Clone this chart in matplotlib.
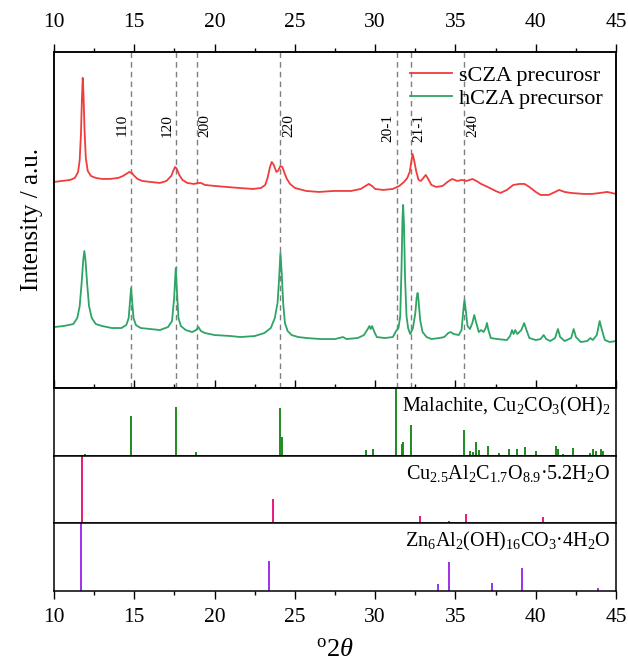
import matplotlib
matplotlib.use('Agg')
import matplotlib.pyplot as plt
from matplotlib.ticker import MultipleLocator, FixedLocator

plt.rcParams['font.family'] = ['Liberation Serif', 'DejaVu Serif']
plt.rcParams['mathtext.fontset'] = 'custom'
plt.rcParams['mathtext.rm'] = 'Liberation Serif'
plt.rcParams['mathtext.it'] = 'Liberation Serif:italic'

# sCZA precursor pattern (offset a.u.)
scza_x = [10.0, 10.5, 11.0, 11.3, 11.5, 11.6, 11.68, 11.74, 11.79, 11.84, 11.9, 11.98, 12.1,
          12.3, 12.6, 13.0, 13.5, 14.0, 14.3, 14.5, 14.69, 14.85, 15.0, 15.2, 15.5, 16.0,
          16.6, 17.0, 17.3, 17.45, 17.54, 17.65, 17.8, 18.0, 18.3, 18.7, 19.0, 19.15, 19.4,
          20.0, 20.76, 21.5, 22.4, 22.9, 23.15, 23.3, 23.45, 23.56, 23.68, 23.85, 23.95,
          24.1, 24.22, 24.35, 24.5, 24.7, 25.0, 25.7, 26.5, 27.4, 28.5, 29.1, 29.4, 29.6,
          29.8, 30.0, 30.5, 31.1, 31.5, 31.8, 32.0, 32.15, 32.25, 32.33, 32.42, 32.55, 32.7,
          32.85, 33.0, 33.15, 33.3, 33.5, 33.8, 34.2, 34.5, 34.8, 35.1, 35.4, 35.7, 36.05,
          36.3, 36.6, 37.0, 37.5, 37.8, 38.2, 38.6, 39.0, 39.3, 39.6, 40.0, 40.3, 40.8,
          41.2, 41.45, 41.8, 42.2, 43.0, 43.5, 44.0, 44.45, 45.0]
scza_y = [206, 207, 208, 210, 216, 228, 255, 290, 310, 292, 258, 230, 217,
          212, 210, 209, 209, 210, 212, 214, 216, 215, 212, 209, 207, 206,
          205, 207, 212, 218, 221, 219, 213, 208, 205, 204, 205, 205, 203,
          202, 201, 200, 199, 200, 203, 210, 221, 226, 223, 216, 217,
          222, 221, 215, 209, 204, 200, 197, 196, 197, 197, 199, 202, 204,
          202, 199, 198, 199, 202, 206, 210, 216, 226, 234, 228, 217, 208,
          207, 210, 213, 209, 203, 201, 202, 206, 209, 207, 208, 207, 209,
          207, 204, 201, 197, 195, 198, 203, 204, 204, 201, 196, 193, 193,
          196, 198, 196, 195, 194, 194, 195, 196, 194]

# hCZA precursor pattern
hcza_x = [10.0, 10.6, 11.2, 11.45, 11.6, 11.72, 11.82, 11.89, 11.96, 12.06, 12.18, 12.35,
          12.6, 13.0, 13.6, 14.2, 14.5, 14.65, 14.74, 14.8, 14.86, 14.95, 15.1, 15.4, 16.0,
          16.6, 17.1, 17.35, 17.48, 17.58, 17.66, 17.75, 17.9, 18.2, 18.6, 18.85, 18.99,
          19.15, 19.4, 20.0, 21.0, 21.6, 22.5, 23.1, 23.5, 23.75, 23.92, 24.02, 24.1, 24.18,
          24.27, 24.38, 24.55, 24.8, 25.2, 25.74, 26.6, 27.5, 28.0, 28.2, 28.9, 29.05, 29.3,
          29.5, 29.64, 29.72, 29.81, 29.95, 30.1, 30.6, 31.1, 31.3, 31.45, 31.56, 31.64,
          31.7, 31.74, 31.79, 31.86, 31.95, 32.05, 32.18, 32.35, 32.5, 32.58, 32.64, 32.7,
          32.8, 32.95, 33.2, 33.5, 34.0, 34.3, 34.55, 34.7, 34.9, 35.2, 35.38, 35.5, 35.56,
          35.64, 35.75, 35.9, 36.05, 36.17, 36.28, 36.45, 36.6, 36.75, 36.88, 36.96, 37.05,
          37.2, 37.6, 38.2, 38.4, 38.52, 38.62, 38.72, 38.85, 39.1, 39.28, 39.42, 39.6,
          40.0, 40.3, 40.49, 40.65, 40.9, 41.2, 41.38, 41.52, 41.8, 42.2, 42.36, 42.5,
          42.8, 43.2, 43.4, 43.55, 43.8, 43.98, 44.12, 44.3, 44.6, 45.0]
hcza_y = [61, 62, 64, 70, 82, 105, 128, 137, 128, 105, 82, 70,
          64, 62, 60, 60, 63, 70, 88, 100, 88, 70, 63, 60, 59,
          58, 61, 67, 90, 120, 95, 70, 62, 58, 56, 58, 61,
          57, 55, 53, 52, 51, 52, 55, 60, 70, 85, 110, 135, 115,
          85, 65, 57, 53, 51, 50, 49, 49, 51, 49, 50, 51, 53,
          58, 62, 59, 62, 56, 51, 50, 51, 57, 60, 72, 120,
          170, 183, 165, 110, 72, 60, 54, 60, 75, 90, 95, 88,
          68, 56, 51, 49, 50, 51, 55, 56, 54, 53, 58, 80, 88,
          78, 62, 59, 65, 73, 66, 56, 58, 56, 60, 65, 58,
          50, 49, 48, 52, 58, 54, 58, 54, 58, 65, 58, 50,
          48, 49, 53, 49, 47, 50, 59, 51, 47, 50, 59, 51,
          46, 47, 50, 48, 53, 67, 58, 48, 46, 47]

# peak markers (hkl of malachite)
hkl_pos = [14.8, 17.58, 18.89, 24.08, 31.33, 32.22, 35.56]
hkl_text = ['110', '120', '200', '220', '20-1', '21-1', '240']
hkl_side = ['left', 'left', 'right', 'right', 'left', 'right', 'right']

# reference stick patterns (relative intensity)
mal_pos = [11.95, 14.78, 17.58, 18.87, 20.3, 24.07, 24.18, 27.88, 28.85, 29.44, 29.86,
           31.28, 31.67, 31.76, 32.2, 34.78, 35.51, 35.92, 36.06, 36.27, 36.48, 37.05,
           37.72, 38.31, 38.8, 39.35, 40.02, 41.26, 41.4, 41.72, 42.34, 42.96, 43.39,
           43.55, 43.74, 44.04, 44.2, 44.77]
mal_int = [2.5, 59, 72, 6, 1, 70, 28, 1.5, 2, 9, 10,
           100, 18, 20, 46, 2, 38, 8, 6, 21, 9, 15,
           5, 10, 10, 13, 8, 15, 10, 3, 12, 2, 4,
           11, 7, 10, 7, 1]

cu_pos = [11.75, 23.61, 32.82, 34.59, 35.67, 37.21, 37.76, 40.43]
cu_int = [100, 36, 11, 3, 14, 2, 1, 9]

zn_pos = [11.65, 23.4, 33.9, 34.57, 37.26, 39.17, 43.9]
zn_int = [100, 45, 10, 42.5, 11.5, 33.5, 5]

major_ticks = [10, 15, 20, 25, 30, 35, 40, 45]
minor_ticks = [12.5, 17.5, 22.5, 27.5, 32.5, 37.5, 42.5]

fig = plt.figure(figsize=(6.28, 6.65), dpi=100)
gs = fig.add_gridspec(4, 1, height_ratios=[336, 68, 67, 68], hspace=0,
                      left=0.086, right=0.981, top=0.922, bottom=0.111)
ax = fig.add_subplot(gs[0])
ax1 = fig.add_subplot(gs[1], sharex=ax)
ax2 = fig.add_subplot(gs[2], sharex=ax)
ax3 = fig.add_subplot(gs[3], sharex=ax)

ax.plot(scza_x, scza_y, color='#f03c3c', lw=1.3, label='sCZA precurosr')
ax.plot(hcza_x, hcza_y, color='#2ea465', lw=1.3, label='hCZA precursor')
for p, t, s in zip(hkl_pos, hkl_text, hkl_side):
    ax.axvline(p, color='#7f7f7f', ls=(0, (4, 3)), lw=1.0, zorder=0)
    if s == 'left':
        ax.text(p - 0.12, 274, t, rotation=90, ha='right', va='top', fontsize=11)
    else:
        ax.text(p + 0.12, 274, t, rotation=90, ha='left', va='top', fontsize=11)

ax.set_xlim(10, 45)
ax.set_ylim(0, 336)
ax.set_yticks([])
ax.set_ylabel('Intensity / a.u.', fontsize=18, labelpad=8)
ax.legend(loc='upper right', frameon=False, fontsize=16, handlelength=1.9,
          labelspacing=0.1, borderaxespad=0.2, handletextpad=0.3)

ax1.vlines(mal_pos, 0, mal_int, color='#1f8a1f', lw=1.4)
ax2.vlines(cu_pos, 0, cu_int, color='#e8197f', lw=1.4)
ax3.vlines(zn_pos, 0, zn_int, color='#9b2ff0', lw=1.4)

labels = [r'Malachite, Cu$_2$CO$_3$(OH)$_2$',
          r'Cu$_{2.5}$Al$_2$C$_{1.7}$O$_{8.9}$·5.2H$_2$O',
          r'Zn$_6$Al$_2$(OH)$_{16}$CO$_3$·4H$_2$O']
for a, lab in zip([ax1, ax2, ax3], labels):
    a.set_ylim(0, 100)
    a.set_yticks([])
    a.text(0.99, 0.9, lab, transform=a.transAxes, ha='right', va='top', fontsize=14.5)

for a in [ax, ax1, ax2, ax3]:
    a.xaxis.set_major_locator(FixedLocator(major_ticks))
    a.xaxis.set_minor_locator(FixedLocator(minor_ticks))
    for s in a.spines.values():
        s.set_linewidth(1.1)

# top axis: labelled, ticks pointing out
top = ax.twiny()
top.set_xlim(ax.get_xlim())
top.xaxis.set_major_locator(FixedLocator(major_ticks))
top.xaxis.set_minor_locator(FixedLocator(minor_ticks))
top.tick_params(axis='x', which='major', direction='out', length=6, width=1.0, labelsize=15.5, pad=8)
top.tick_params(axis='x', which='minor', direction='out', length=3, width=1.0)
for s in top.spines.values():
    s.set_linewidth(1.1)

ax.tick_params(axis='x', which='both', top=False, labeltop=False, bottom=True, labelbottom=False,
               direction='in')
ax.tick_params(axis='x', which='major', length=6, width=1.0)
ax.tick_params(axis='x', which='minor', length=3, width=1.0)
for a in [ax1, ax2]:
    a.tick_params(axis='x', which='both', bottom=False, labelbottom=False)
ax3.tick_params(axis='x', which='major', direction='out', length=6, width=1.0, labelsize=15.5, pad=6)
ax3.tick_params(axis='x', which='minor', direction='out', length=3, width=1.0)
ax3.set_xlabel(r'$^{\mathrm{o}}$2$\theta$', fontsize=19, labelpad=9)

fig.savefig('out.png', dpi=100)
